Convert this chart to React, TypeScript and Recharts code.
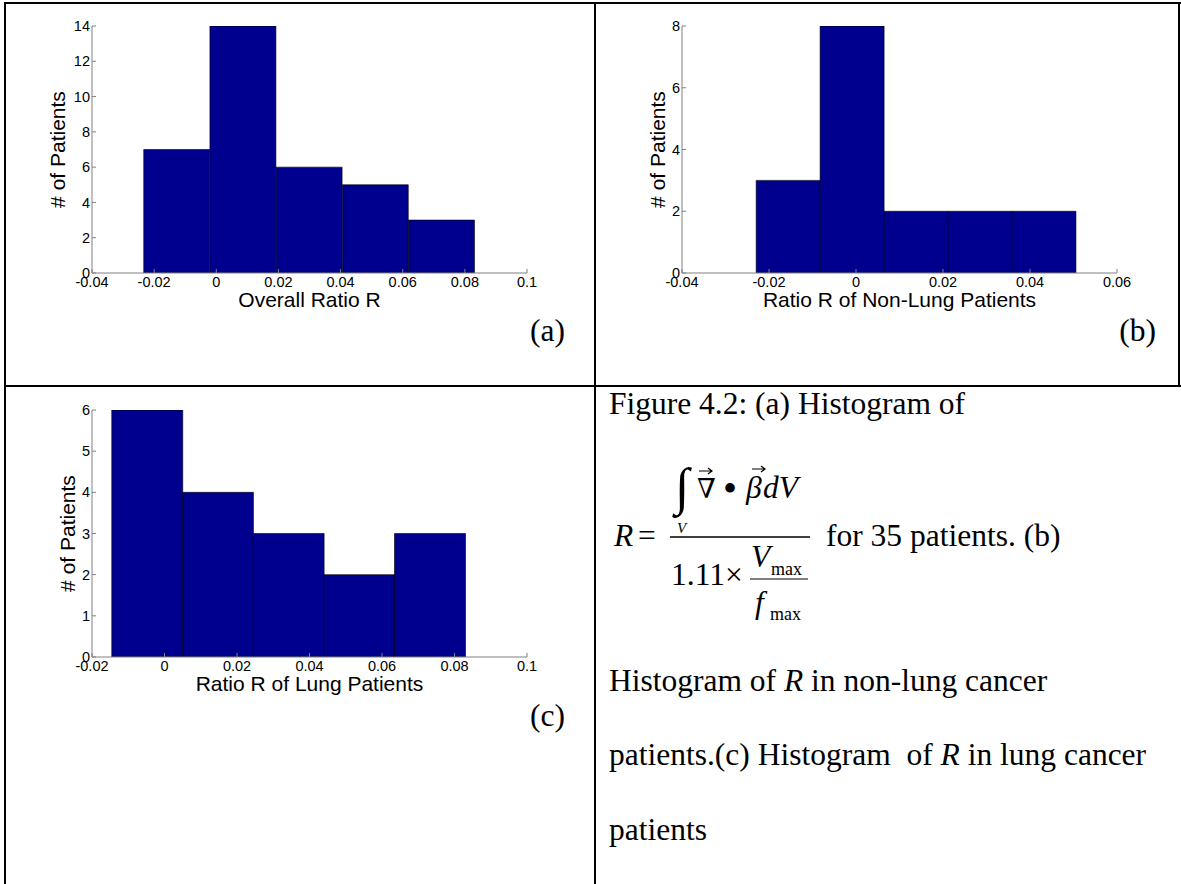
import { BarChart, Bar, XAxis, YAxis } from 'recharts';

// bin centres and counts for each histogram
const overallBins = [-0.0127, 0.0086, 0.0299, 0.0512, 0.0725];
const overallCounts = [7, 14, 6, 5, 3];
const overallXTicks = [-0.04, -0.02, 0, 0.02, 0.04, 0.06, 0.08, 0.1];
const overallYTicks = [0, 2, 4, 6, 8, 10, 12, 14];

const nonLungBins = [-0.0156, -0.0009, 0.0138, 0.0285, 0.0432];
const nonLungCounts = [3, 8, 2, 2, 2];
const nonLungXTicks = [-0.04, -0.02, 0, 0.02, 0.04, 0.06];
const nonLungYTicks = [0, 2, 4, 6, 8];

const lungBins = [-0.0048, 0.0147, 0.0342, 0.0537, 0.0732];
const lungCounts = [6, 4, 3, 2, 3];
const lungXTicks = [-0.02, 0, 0.02, 0.04, 0.06, 0.08, 0.1];
const lungYTicks = [0, 1, 2, 3, 4, 5, 6];

const BAR_COLOR = '#00008F';
const AXIS_COLOR = '#808080';
const SANS = '"Liberation Sans", Arial, sans-serif';
const SERIF = '"Liberation Serif", "Times New Roman", serif';

interface HistProps {
  bins: number[];
  counts: number[];
  xTicks: number[];
  yTicks: number[];
  xLabel: string;
  left: number;
  top: number;
  marginLeft: number;
  yAxisWidth: number;
  marginRight: number;
}

function Histogram({
  bins,
  counts,
  xTicks,
  yTicks,
  xLabel,
  left,
  top,
  marginLeft,
  yAxisWidth,
  marginRight,
}: HistProps) {
  const data = bins.map((r, i) => ({ r, count: counts[i] }));
  const xDomain = [xTicks[0], xTicks[xTicks.length - 1]];
  const yDomain = [yTicks[0], yTicks[yTicks.length - 1]];
  const tickStyle = { fontSize: 14.5, fill: '#000', fontFamily: SANS };
  const fmt = (v: number) => String(v);

  return (
    <div style={{ position: 'absolute', left, top }}>
      <BarChart
        width={560}
        height={320}
        data={data}
        barCategoryGap={0}
        barGap={0}
        margin={{ top: 26, right: marginRight, bottom: 11, left: marginLeft }}
        style={{ fontFamily: SANS }}
      >
        <XAxis
          dataKey="r"
          type="number"
          domain={xDomain}
          ticks={xTicks}
          interval={0}
          allowDataOverflow
          height={36}
          tickSize={-4}
          tickMargin={8}
          tick={tickStyle}
          tickFormatter={fmt}
          stroke={AXIS_COLOR}
          label={{ value: xLabel, position: 'insideBottom', offset: 2, fontSize: 21, fill: '#000' }}
        />
        <XAxis
          xAxisId="top"
          orientation="top"
          type="number"
          domain={xDomain}
          ticks={xTicks}
          interval={0}
          allowDataOverflow
          height={0}
          tickSize={-4}
          tick={false}
          stroke={AXIS_COLOR}
        />
        <YAxis
          type="number"
          domain={yDomain}
          ticks={yTicks}
          interval={0}
          allowDataOverflow
          width={yAxisWidth}
          tickSize={-4}
          tickMargin={6}
          tick={tickStyle}
          stroke={AXIS_COLOR}
          label={{ value: '# of Patients', angle: -90, position: 'center', fontSize: 21, fill: '#000' }}
        />
        <YAxis
          yAxisId="right"
          orientation="right"
          type="number"
          domain={yDomain}
          ticks={yTicks}
          interval={0}
          allowDataOverflow
          width={0}
          tickSize={-4}
          tick={false}
          stroke={AXIS_COLOR}
        />
        <Bar
          dataKey="count"
          fill={BAR_COLOR}
          stroke="#000"
          strokeWidth={0.6}
          isAnimationActive={false}
        />
      </BarChart>
    </div>
  );
}

function Caption() {
  const big = 31.5;
  return (
    <svg
      width={1181}
      height={884}
      style={{ position: 'absolute', left: 0, top: 0, pointerEvents: 'none' }}
      fontFamily={SERIF}
    >
      <text x={565} y={341} fontSize={big} textAnchor="end">(a)</text>
      <text x={1156} y={341} fontSize={big} textAnchor="end">(b)</text>
      <text x={565} y={726} fontSize={big} textAnchor="end">(c)</text>

      <text x={609} y={414} fontSize={big}>Figure 4.2: (a) Histogram of</text>

      {/* R = integral / (1.11 x Vmax / fmax) */}
      <text x={614} y={546} fontSize={big} fontStyle="italic">R</text>
      <text x={638} y={546} fontSize={big}>=</text>
      <line x1={670} y1={537} x2={810} y2={537} stroke="#000" strokeWidth={1.5} />

      <text x={675} y={504} fontSize={52}>∫</text>
      <text x={677} y={533} fontSize={15} fontStyle="italic">V</text>
      <text x={697} y={498} fontSize={27} fontFamily='"DejaVu Serif", serif'>∇</text>
      <path d="M699 471 H712 M708 468 L712 471 L708 474" stroke="#000" fill="none" strokeWidth={1.2} />
      <text x={723} y={502} fontSize={40}>•</text>
      <text x={746} y={498} fontSize={big} fontStyle="italic">β</text>
      <path d="M752 469 H765 M761 466 L765 469 L761 472" stroke="#000" fill="none" strokeWidth={1.2} />
      <text x={763} y={498} fontSize={big} fontStyle="italic">dV</text>

      <text x={671} y={585} fontSize={big}>1.11×</text>
      <text x={751} y={567} fontSize={big} fontStyle="italic">V</text>
      <text x={771} y={575} fontSize={18}>max</text>
      <line x1={750} y1={579} x2={808} y2={579} stroke="#000" strokeWidth={1.2} />
      <text x={755} y={613} fontSize={big} fontStyle="italic">f</text>
      <text x={770} y={620} fontSize={18}>max</text>

      <text x={826} y={546} fontSize={big}>for 35 patients. (b)</text>

      <text x={609} y={691} fontSize={big}>
        Histogram of <tspan fontStyle="italic">R</tspan> in non-lung cancer
      </text>
      <text x={609} y={765} fontSize={big} xmlSpace="preserve">
        patients.(c) Histogram{'  '}of <tspan fontStyle="italic">R</tspan> in lung cancer
      </text>
      <text x={609} y={840} fontSize={big}>patients</text>
    </svg>
  );
}

const line = (left: number, top: number, width: number, height: number) => (
  <div style={{ position: 'absolute', left, top, width, height, background: '#000' }} />
);

export default function App() {
  return (
    <div
      style={{
        position: 'absolute',
        left: 0,
        top: 0,
        width: 1181,
        height: 884,
        background: '#fff',
        overflow: 'hidden',
      }}
    >
      <Histogram
        bins={overallBins}
        counts={overallCounts}
        xTicks={overallXTicks}
        yTicks={overallYTicks}
        xLabel="Overall Ratio R"
        left={0}
        top={0}
        marginLeft={24}
        yAxisWidth={68}
        marginRight={33}
      />
      <Histogram
        bins={nonLungBins}
        counts={nonLungCounts}
        xTicks={nonLungXTicks}
        yTicks={nonLungYTicks}
        xLabel="Ratio R of Non-Lung Patients"
        left={596}
        top={0}
        marginLeft={38}
        yAxisWidth={48}
        marginRight={39}
      />
      <Histogram
        bins={lungBins}
        counts={lungCounts}
        xTicks={lungXTicks}
        yTicks={lungYTicks}
        xLabel="Ratio R of Lung Patients"
        left={0}
        top={384}
        marginLeft={44}
        yAxisWidth={48}
        marginRight={33}
      />
      <Caption />

      {/* table rules */}
      {line(4, 2, 1177, 2)}
      {line(4, 2, 2, 882)}
      {line(594, 2, 2, 882)}
      {line(4, 385, 1177, 2)}
      {line(1178, 2, 2, 385)}
    </div>
  );
}
